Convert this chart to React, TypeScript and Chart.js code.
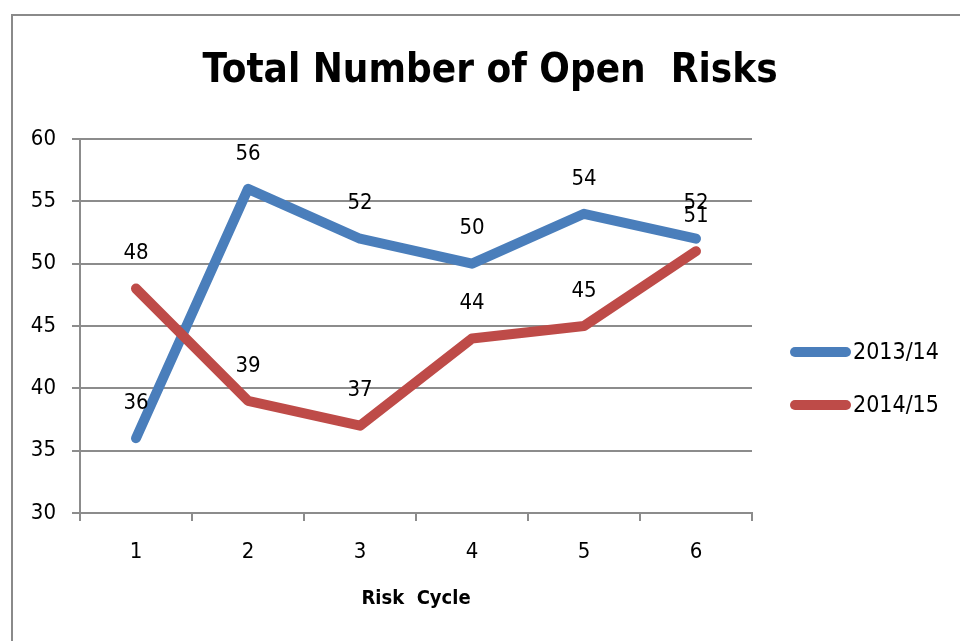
import React, { useEffect, useRef } from "react";
import { Chart, registerables } from "chart.js";

Chart.register(...registerables);

const categories = ["1", "2", "3", "4", "5", "6"];
const series1Name = "2013/14";
const series1Values = [36, 56, 52, 50, 54, 52];
const series2Name = "2014/15";
const series2Values = [48, 39, 37, 44, 45, 51];
const titleText = "Total Number of Open  Risks";
const xTitleText = "Risk  Cycle";

const BLUE = "#4a7ebb";
const RED = "#be4b48";
const GRID = "#8c8c8c";
const FONT = "'Liberation Sans Narrow', 'DejaVu Sans Condensed', 'Open Sans', sans-serif";

export default function App() {
  const ref = useRef<HTMLCanvasElement | null>(null);

  useEffect(() => {
    if (!ref.current) return;
    const overlay = {
      id: "overlay",
      afterDraw(chart: any) {
        const ctx = chart.ctx as CanvasRenderingContext2D;
        const area = chart.chartArea;
        ctx.save();
        // frame
        ctx.strokeStyle = "#8a8a8a";
        ctx.lineWidth = 2;
        ctx.beginPath();
        ctx.moveTo(12, 641);
        ctx.lineTo(12, 15);
        ctx.lineTo(960, 15);
        ctx.stroke();
        // title
        ctx.fillStyle = "#000";
        ctx.textAlign = "center";
        ctx.textBaseline = "middle";
        ctx.font = `bold 40px ${FONT}`;
        ctx.fillText(titleText, 490, 72);
        // x axis title
        ctx.font = `bold 20px ${FONT}`;
        ctx.fillText(xTitleText, (area.left + area.right) / 2, 599);
        // data labels
        ctx.font = `22px ${FONT}`;
        chart.data.datasets.forEach((ds: any, i: number) => {
          const meta = chart.getDatasetMeta(i);
          meta.data.forEach((pt: any, j: number) => {
            ctx.fillText(String(ds.data[j]), pt.x, pt.y - 35);
          });
        });
        // legend
        const items = [
          { name: series1Name, color: BLUE, y: 352 },
          { name: series2Name, color: RED, y: 405 },
        ];
        items.forEach((it) => {
          ctx.strokeStyle = it.color;
          ctx.lineWidth = 10;
          ctx.lineCap = "round";
          ctx.beginPath();
          ctx.moveTo(795, it.y);
          ctx.lineTo(846, it.y);
          ctx.stroke();
          ctx.fillStyle = "#000";
          ctx.textAlign = "left";
          ctx.font = `23px ${FONT}`;
          ctx.fillText(it.name, 853, it.y + 1);
        });
        ctx.restore();
      },
    };

    const chart = new Chart(ref.current, {
      type: "line",
      data: {
        labels: categories,
        datasets: [
          {
            label: series1Name,
            data: series1Values,
            borderColor: BLUE,
            backgroundColor: BLUE,
            borderWidth: 10,
            borderCapStyle: "round",
            borderJoinStyle: "round",
            pointRadius: 0,
            tension: 0,
            order: 1,
          },
          {
            label: series2Name,
            data: series2Values,
            borderColor: RED,
            backgroundColor: RED,
            borderWidth: 10,
            borderCapStyle: "round",
            borderJoinStyle: "round",
            pointRadius: 0,
            tension: 0,
            order: 0,
          },
        ],
      },
      options: {
        responsive: false,
        animation: false,
        layout: { padding: { top: 139, left: 0, right: 208, bottom: 0 } },
        plugins: {
          legend: { display: false },
          title: { display: false },
          tooltip: { enabled: false },
        },
        scales: {
          x: {
            offset: true,
            grid: {
              offset: true,
              drawOnChartArea: false,
              drawTicks: true,
              tickLength: 8,
              color: GRID,
              lineWidth: 2,
            },
            border: { display: true, color: GRID, width: 2 },
            ticks: { color: "#000", font: { family: FONT, size: 22 }, padding: 18 },
            afterFit: (s: any) => {
              s.height = 128;
            },
          },
          y: {
            min: 30,
            max: 60,
            ticks: { stepSize: 5, color: "#000", font: { family: FONT, size: 22 }, padding: 16 },
            grid: { color: GRID, lineWidth: 2, tickLength: 8 },
            border: { display: true, color: GRID, width: 2 },
            afterFit: (s: any) => {
              s.width = 80;
            },
          },
        },
      },
      plugins: [overlay],
    } as any);
    return () => chart.destroy();
  }, []);

  return (
    <div style={{ position: "fixed", left: 0, top: 0, width: 960, height: 641, background: "#fff" }}>
      <canvas ref={ref} width={960} height={641} style={{ width: 960, height: 641, display: "block" }} />
    </div>
  );
}
